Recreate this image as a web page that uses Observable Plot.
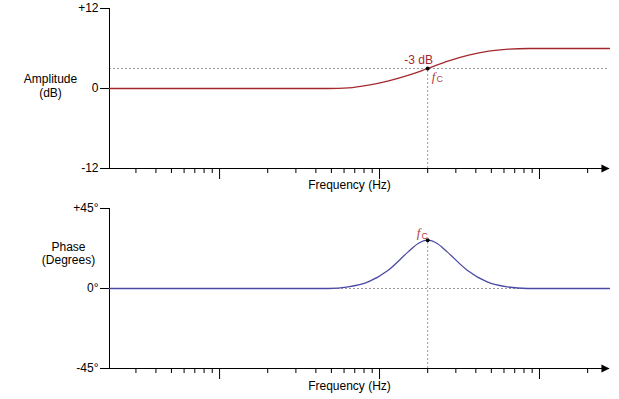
<!DOCTYPE html>
<html><head><meta charset="utf-8">
<script src="https://cdn.jsdelivr.net/npm/d3@7"></script>
<script src="https://cdn.jsdelivr.net/npm/@observablehq/plot@0.6"></script>
<style>body{margin:0;background:#fff} #chart svg{display:block}</style>
</head><body><div id="chart"></div>
<script>
// ---- data ----
const freqDomain = [20.5, 27400];
const majorTicks = [100, 1000, 10000];
const minorTicks = [30,40,50,60,70,80,90,200,300,400,500,600,700,800,900,2000,3000,4000,5000,6000,7000,8000,9000,20000];
const cutoffFreq = 2000;

const ampFreq = [20.5, 480, 641, 855, 1141, 1522, 2000, 2706, 3608, 4812, 6419, 8560, 27400];
const ampDb   = [0,    0,   0.09, 0.5, 1.14, 1.99, 3.0,  4.14, 5.0,  5.6,  5.9,  6.0,  6.0];
const ampTicks = [-12, 0, 12];
const ampTickLabels = ["-12", "0", "+12"];
const cutoffDb = 3;

const phaseFreq = [20.5, 477, 637, 849, 1133, 1510, 1744, 2000, 2294, 2648, 3532, 4710, 6280, 8380, 27400];
const phaseDeg  = [0,    0,   0.9, 3.7, 10.3, 20.6, 25.3, 27.2, 25.3, 20.6, 10.3, 3.7,  0.9,  0,    0];
const phaseTicks = [-45, 0, 45];
const phaseTickLabels = ["-45°", "0°", "+45°"];
const cutoffPhase = 27.2;

const ampColor = "#a3292e";
const phaseColor = "#4a4aa6";
const fcColor = "#ad4044";

const arrowSymbol = {
  draw(ctx, size) {
    const r = Math.sqrt(size / Math.PI);
    ctx.moveTo(r * 1.5, 0);
    ctx.lineTo(-r * 0.9, -r * 1.15);
    ctx.lineTo(-r * 0.9, r * 1.15);
    ctx.closePath();
  }
};

function panel({height, marginTop, marginBottom, yTicks, yLabels, title, titleDx, titleDy, lineH,
                freqs, values, color, refValue, refFull, labelDy, fcPos, extra}) {
  const yDomain = [yTicks[0], yTicks[yTicks.length - 1]];
  const pts = freqs.map((f, i) => ({f, v: values[i]}));
  const cut = [{f: cutoffFreq, v: refValue}];
  const marks = [
    refFull
      ? Plot.ruleY([refValue], {x1: freqDomain[0], x2: freqDomain[1], stroke: "#9a9a9a", strokeDasharray: "2,2"})
      : Plot.ruleY([0], {x1: freqDomain[0], x2: freqDomain[1], stroke: "#9a9a9a", strokeDasharray: "2,2"}),
    Plot.ruleX([cutoffFreq], {y1: yDomain[0], y2: refValue, stroke: "#9a9a9a", strokeDasharray: "2,2"}),
    Plot.axisY(yTicks, {tickSize: 9, tickPadding: 2, label: null,
      tickFormat: d => yLabels[yTicks.indexOf(d)], fontSize: 12}),
    Plot.axisX(minorTicks, {tickSize: 5, tickFormat: () => "", label: null}),
    Plot.axisX(majorTicks, {tickSize: 11, tickFormat: () => "", label: null}),
    Plot.ruleX([freqDomain[0]], {y1: yDomain[0], y2: yDomain[1], stroke: "black"}),
    Plot.ruleY([yDomain[0]], {x1: freqDomain[0], x2: freqDomain[1], stroke: "black"}),
    Plot.dot([freqDomain[1]], {x: d => d, y: yDomain[0], symbol: arrowSymbol, r: 3.4, fill: "black", stroke: "none", dx: -5}),
    Plot.line(pts, {x: "f", y: "v", stroke: color, strokeWidth: 1.3, curve: "monotone-x"}),
    Plot.dot(cut, {x: "f", y: "v", r: 2, fill: "black", stroke: "none"}),
    Plot.text(cut, {x: "f", y: "v", text: () => "f", fontFamily: "Liberation Serif, serif", fontStyle: "italic",
      fontSize: 13, fill: fcColor, dx: fcPos[0], dy: fcPos[1]}),
    Plot.text(cut, {x: "f", y: "v", text: () => "C", fontFamily: "Liberation Sans, sans-serif",
      fontSize: 9, fill: fcColor, dx: fcPos[0] + 6, dy: fcPos[1] + 3}),
    Plot.text([title], {text: d => d, frameAnchor: "left", dx: titleDx, dy: titleDy, textAnchor: "middle",
      lineHeight: lineH, fontSize: 12}),
    Plot.text(["Frequency (Hz)"], {text: d => d, frameAnchor: "bottom", dx: -10, dy: labelDy, fontSize: 12}),
    ...(extra || [])
  ];
  return Plot.plot({
    width: 619, height, marginTop, marginBottom, marginLeft: 109, marginRight: 10,
    style: {fontFamily: "Liberation Sans, Arial, sans-serif", fontSize: "12px", background: "white"},
    x: {type: "log", domain: freqDomain, axis: null},
    y: {domain: yDomain, axis: null},
    marks
  });
}

const ampPanel = panel({
  height: 198, marginTop: 8, marginBottom: 30,
  yTicks: ampTicks, yLabels: ampTickLabels, title: "Amplitude\n(dB)", titleDx: -59, titleDy: -3, lineH: 1.15,
  freqs: ampFreq, values: ampDb, color: ampColor, refValue: cutoffDb, refFull: true, labelDy: 20,
  fcPos: [6, 8],
  extra: [Plot.text([{f: cutoffFreq, v: cutoffDb}], {x: "f", y: "v", text: () => "-3 dB", dx: -9, dy: -8,
    fill: ampColor, fontSize: 12})]
});
const phasePanel = panel({
  height: 201, marginTop: 10, marginBottom: 31,
  yTicks: phaseTicks, yLabels: phaseTickLabels, title: "Phase\n(Degrees)", titleDx: -41, titleDy: -35.5, lineH: 1.1,
  freqs: phaseFreq, values: phaseDeg, color: phaseColor, refValue: cutoffPhase, refFull: false, labelDy: 21,
  fcPos: [-9, -7]
});
document.getElementById("chart").append(ampPanel, phasePanel);
</script></body></html>
